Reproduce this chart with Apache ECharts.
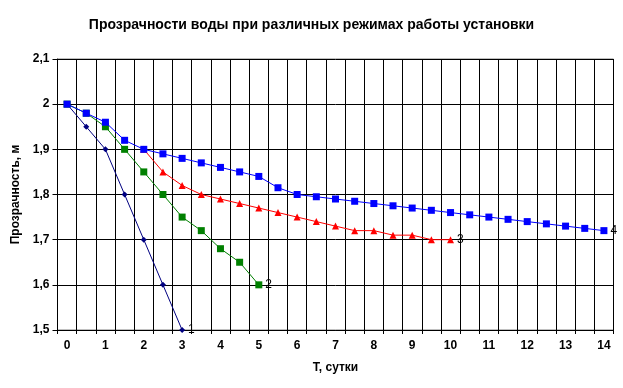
<!DOCTYPE html>
<html><head><meta charset="utf-8">
<script src="https://cdn.jsdelivr.net/npm/echarts@6/dist/echarts.min.js"></script>
<style>html,body{margin:0;padding:0;background:#fff}#c{width:623px;height:388px}</style>
</head><body><div id="c"></div>
<script>
var categories = ["0","0,5","1","1,5","2","2,5","3","3,5","4","4,5","5","5,5","6","6,5","7","7,5","8","8,5","9","9,5","10","10,5","11","11,5","12","12,5","13","13,5","14"];
var series1 = [2.0,1.95,1.9,1.8,1.7,1.6,1.5];
var series2 = [2.0,1.98,1.95,1.9,1.85,1.8,1.75,1.72,1.68,1.65,1.6];
var series3 = [null,null,null,null,1.9,1.85,1.82,1.8,1.79,1.78,1.77,1.76,1.75,1.74,1.73,1.72,1.72,1.71,1.71,1.7,1.7];
var series4 = [2.0,1.98,1.96,1.92,1.9,1.89,1.88,1.87,1.86,1.85,1.84,1.815,1.8,1.795,1.79,1.785,1.78,1.775,1.77,1.765,1.76,1.755,1.75,1.745,1.74,1.735,1.73,1.725,1.72];
var seriesNames = ["1","2","3","4"];
var yTicks = [1.5,1.6,1.7,1.8,1.9,2.0,2.1];
var titleText = "Прозрачности воды при различных режимах работы установки";
var xName = "T, сутки";
var yName = "Прозрачность, м";

var FONT = "Liberation Sans, Arial, sans-serif";
function withEndLabel(arr, name) {
  var last = -1;
  for (var i = 0; i < arr.length; i++) if (arr[i] != null) last = i;
  return arr.map(function (v, i) {
    if (i === last) return {value: v, label: {show: true, position: 'right', distance: 3, formatter: name, color: '#000', fontSize: 12, fontFamily: FONT}};
    return v;
  });
}
var colors = ['#000080', '#008000', '#ff0000', '#0000ff'];
var symbols = ['diamond', 'rect', 'triangle', 'rect'];
var sizes = [6, 7, 7, 7];
var datas = [series1, series2, series3, series4];
var chart = echarts.init(document.getElementById('c'));
chart.setOption({
  animation: false,
  backgroundColor: '#fff',
  title: {text: titleText, left: 'center', top: 13, textStyle: {fontFamily: FONT, fontSize: 14, fontWeight: 'bold', color: '#000'}},
  grid: {left: 57.5, right: 9.5, top: 59, bottom: 58, show: true, borderColor: '#808080', borderWidth: 1},
  xAxis: {
    type: 'category', data: categories, boundaryGap: true,
    name: xName, nameLocation: 'middle', nameGap: 32,
    nameTextStyle: {fontFamily: FONT, fontSize: 12, fontWeight: 'bold', color: '#000'},
    axisLine: {lineStyle: {color: '#000'}},
    axisTick: {show: true, interval: 0, length: 4, lineStyle: {color: '#000'}},
    axisLabel: {interval: 1, fontFamily: FONT, fontSize: 12, fontWeight: 'bold', color: '#000', margin: 10},
    splitLine: {show: true, interval: 0, lineStyle: {color: '#000', width: 1}}
  },
  yAxis: {
    type: 'value', min: 1.5, max: 2.1, interval: 0.1,
    name: yName, nameLocation: 'middle', nameGap: 33, nameRotate: 90,
    nameTextStyle: {fontFamily: FONT, fontSize: 12, fontWeight: 'bold', color: '#000'},
    axisLine: {show: true, lineStyle: {color: '#000'}},
    axisTick: {show: true, length: 5, lineStyle: {color: '#000'}},
    axisLabel: {fontFamily: FONT, fontSize: 12, fontWeight: 'bold', color: '#000', margin: 8,
      formatter: function (v) { return String(Math.round(v * 10) / 10).replace('.', ','); }},
    splitLine: {show: true, lineStyle: {color: '#000', width: 1}}
  },
  series: datas.map(function (d, k) {
    return {
      type: 'line', name: seriesNames[k], data: withEndLabel(d, seriesNames[k]),
      symbol: symbols[k], symbolSize: sizes[k], showAllSymbol: true,
      lineStyle: {color: colors[k], width: 1},
      itemStyle: {color: colors[k]},
      connectNulls: false, z: 2 + k
    };
  })
});
</script></body></html>
